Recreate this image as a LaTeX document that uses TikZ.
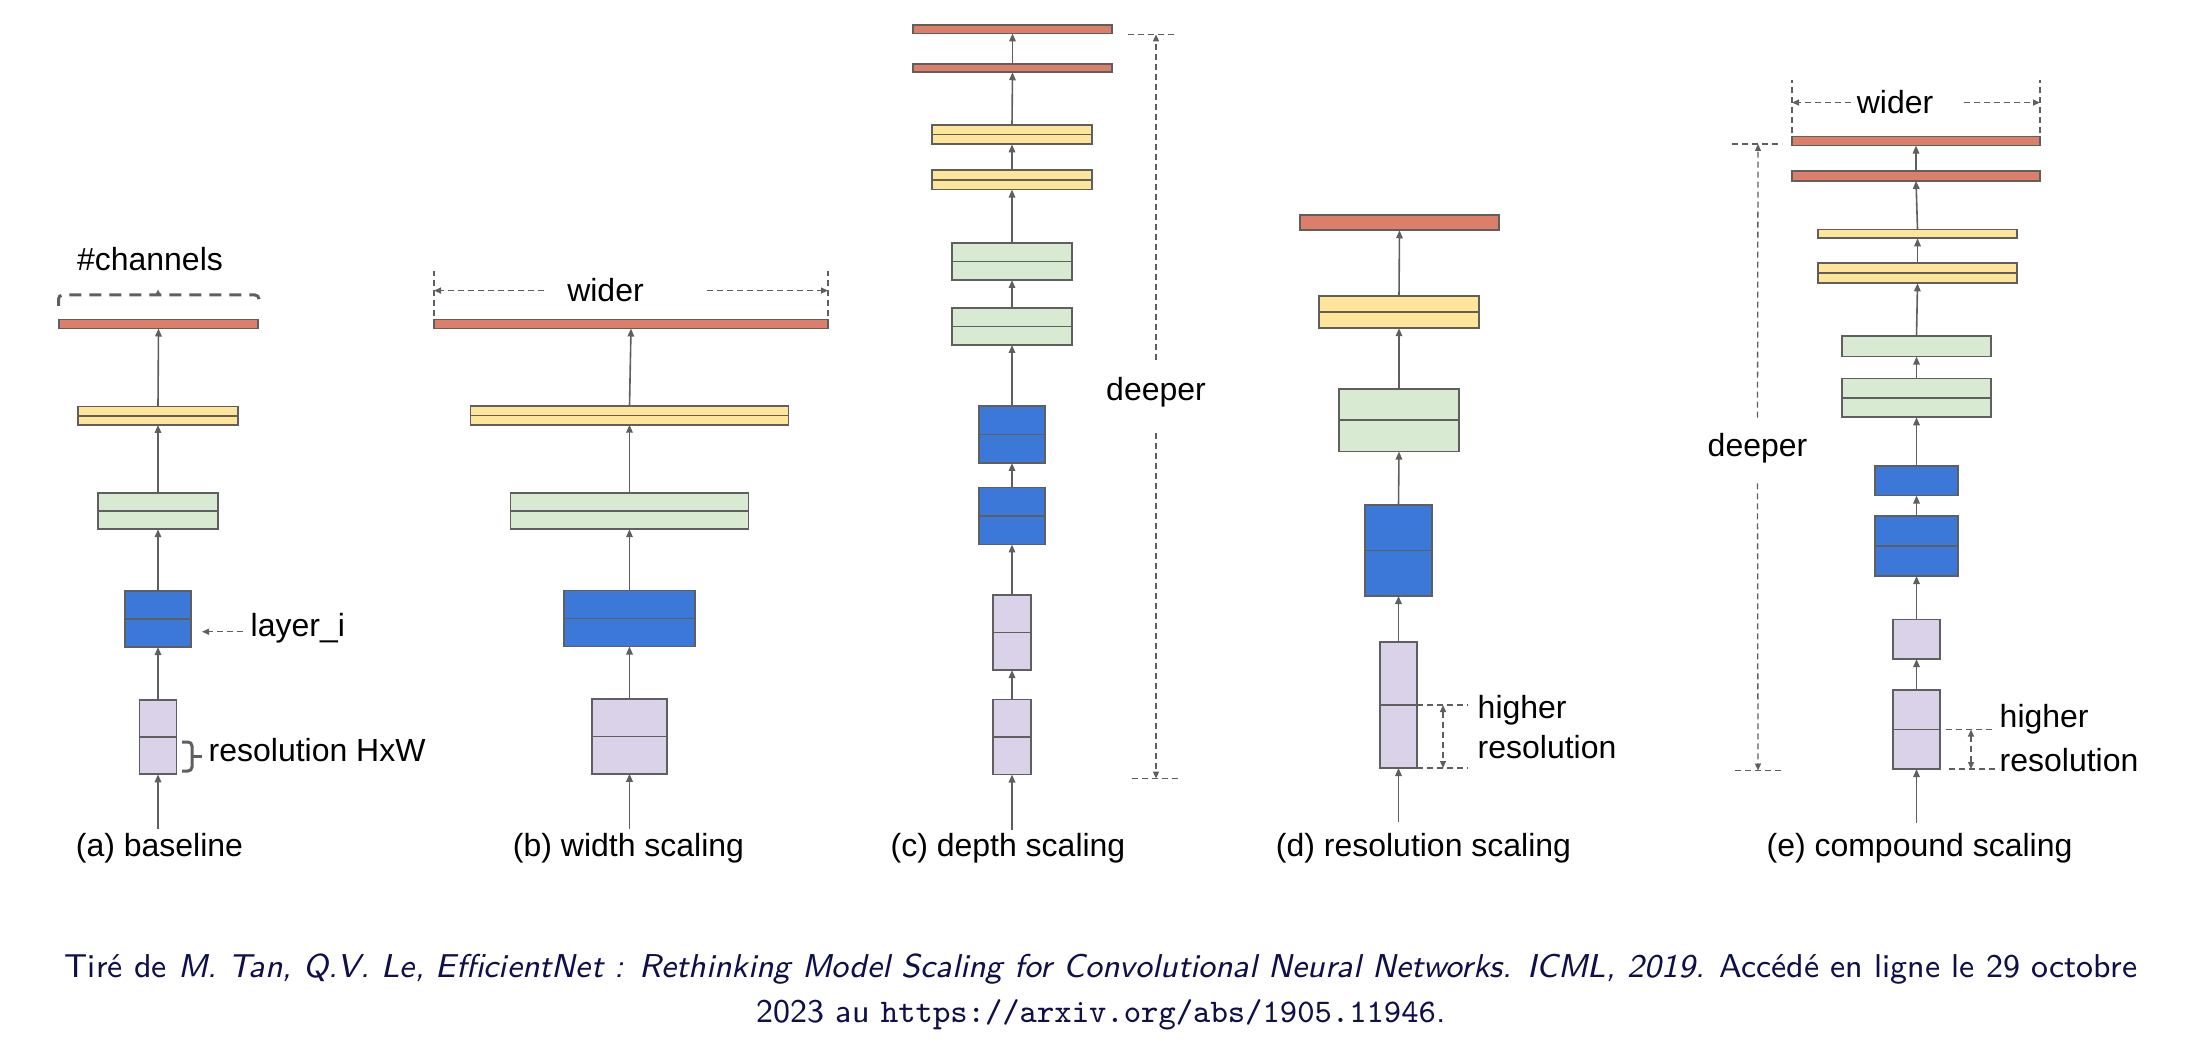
\documentclass[tikz,border=0pt]{standalone}
\usepackage{fontspec}
\newfontfamily\figfont{Liberation Sans}
\usetikzlibrary{arrows.meta}
\definecolor{effred}{RGB}{221,126,107}
\definecolor{effyellow}{RGB}{255,229,153}
\definecolor{effgreen}{RGB}{217,234,211}
\definecolor{effblue}{RGB}{60,120,216}
\definecolor{effpurple}{RGB}{217,210,233}
\definecolor{effgray}{RGB}{95,95,95}
\definecolor{capblue}{RGB}{15,15,75}
\tikzset{
  box/.style={draw=effgray, line width=0.17mm, inner sep=0pt, outer sep=0pt},
  dims/.style 2 args={minimum width=#1mm, minimum height=#2mm},
  halved/.style={path picture={\draw[effgray, line width=0.17mm] (path picture bounding box.west) -- (path picture bounding box.east);}},
  redbar/.style={box, fill=effred},
  yellowbar/.style={box, fill=effyellow},
  greenbar/.style={box, fill=effgreen},
  bluebar/.style={box, fill=effblue},
  purplebar/.style={box, fill=effpurple},
  flow/.style={effgray, line width=0.16mm, -{Triangle[length=0.8mm,width=0.65mm]}},
  dimline/.style={effgray, line width=0.13mm, dash pattern=on 0.6mm off 0.4mm},
  dimarrow/.style={dimline, -{Triangle[length=0.7mm,width=0.6mm]}},
  dimboth/.style={dimline, {Triangle[length=0.7mm,width=0.6mm]}-{Triangle[length=0.7mm,width=0.6mm]}},
  lbl/.style={font=\figfont\fontsize{9.1}{11}\selectfont, inner sep=0pt},
  capt/.style={font=\sffamily\fontsize{9.4}{12.8}\selectfont, text=capblue, align=center, inner sep=0pt}
}

\begin{document}
\begin{tikzpicture}[x=0.1mm, y=-0.1mm]
\useasboundingbox (0,0) rectangle (2186,1056);

% (a) baseline
\node[redbar, dims={19.9}{0.9}] (a1) at (158.5,324) {};
\node[yellowbar, halved, dims={16}{1.85}] (a2) at (158,415.7) {};
\node[greenbar, halved, dims={12}{3.65}] (a3) at (158,511) {};
\node[bluebar, halved, dims={6.6}{5.6}] (a4) at (158,619) {};
\node[purplebar, halved, dims={3.7}{7.45}] (a5) at (158,737) {};
\coordinate (a0) at (158,829);
\draw[flow] (a0) -- (a5.south);
\draw[flow] (a5.north) -- (a4.south);
\draw[flow] (a4.north) -- (a3.south);
\draw[flow] (a3.north) -- (a2.south);
\draw[flow] (a2.north) -- (a1.south);
\node[lbl, anchor=base] (acap) at (159.5,856) {(a) baseline};

\node[lbl, anchor=base] (chan) at (150,271) {\#channels};
\draw[effgray, line width=0.3mm, dash pattern=on 1.2mm off 0.8mm, rounded corners=0.4mm]
  (58.5,306) -- (58.5,295) -- (259,295) -- (259,306);
\fill[effgray] (155,295.5) -- (158,289.5) -- (161,295.5) -- cycle;

\node[lbl, anchor=base west] (lay) at (250,636) {layer\_i};
\draw[dimarrow] ([xshift=-0.7mm,yshift=-0.4mm]lay.west) -- ([xshift=1.1mm,yshift=-0.4mm]lay.west -| a4.east);

\node[lbl, anchor=base west] (res) at (208,761) {resolution HxW};
\draw[effgray, line width=0.3mm, rounded corners=0.4mm] (182,742) -- (192,742) -- (192,771) -- (182,771);
\draw[effgray, line width=0.3mm] (192,756.5) -- (202,756.5);

% (b) width scaling
\node[redbar, dims={39.4}{0.9}] (b1) at (631,324) {};
\node[yellowbar, halved, dims={31.8}{1.85}] (b2) at (629.5,415.5) {};
\node[greenbar, halved, dims={23.8}{3.65}] (b3) at (629.5,511) {};
\node[bluebar, halved, dims={13.1}{5.6}] (b4) at (629.5,618.5) {};
\node[purplebar, halved, dims={7.5}{7.45}] (b5) at (629.5,736.5) {};
\coordinate (b0) at (629.5,829);
\draw[flow] (b0) -- (b5.south);
\draw[flow] (b5.north) -- (b4.south);
\draw[flow] (b4.north) -- (b3.south);
\draw[flow] (b3.north) -- (b2.south);
\draw[flow] (b2.north) -- (b1.south);
\node[lbl, anchor=base] (bcap) at (628.5,856) {(b) width scaling};

\node[lbl, anchor=base] (bw) at (605.5,302) {wider};
\draw[dimarrow] ([xshift=-2.3mm]bw.west) -- (bw.west -| b1.west);
\draw[dimarrow] ([xshift=6.3mm]bw.east) -- (bw.east -| b1.east);
\draw[dimline] ([yshift=0.3mm]b1.north west) -- ++(0,-45);
\draw[dimline] ([yshift=0.3mm]b1.north east) -- ++(0,-45);

% (c) depth scaling
\node[redbar, dims={19.9}{0.85}] (c1) at (1012.5,29.2) {};
\node[redbar, dims={19.9}{0.85}] (c2) at (1012.5,68) {};
\node[yellowbar, halved, dims={16}{1.95}] (c3) at (1012,134.6) {};
\node[yellowbar, halved, dims={16}{1.95}] (c4) at (1012,179.8) {};
\node[greenbar, halved, dims={12}{3.7}] (c5) at (1012,261.5) {};
\node[greenbar, halved, dims={12}{3.7}] (c6) at (1012,326.5) {};
\node[bluebar, halved, dims={6.6}{5.7}] (c7) at (1012,434.5) {};
\node[bluebar, halved, dims={6.6}{5.7}] (c8) at (1012,516) {};
\node[purplebar, halved, dims={3.8}{7.5}] (c9) at (1012,632.5) {};
\node[purplebar, halved, dims={3.8}{7.5}] (c10) at (1012,737) {};
\coordinate (c0) at (1012,829.5);
\draw[flow] (c0) -- (c10.south);
\draw[flow] (c10.north) -- (c9.south);
\draw[flow] (c9.north) -- (c8.south);
\draw[flow] (c8.north) -- (c7.south);
\draw[flow] (c7.north) -- (c6.south);
\draw[flow] (c6.north) -- (c5.south);
\draw[flow] (c5.north) -- (c4.south);
\draw[flow] (c4.north) -- (c3.south);
\draw[flow] (c3.north) -- (c2.south);
\draw[flow] (c2.north) -- (c1.south);
\node[lbl, anchor=base] (ccap) at (1008,856) {(c) depth scaling};

\node[lbl, anchor=base] (cdeep) at (1156,401) {deeper};
\coordinate (ctop) at (1156,34.4);
\coordinate (cbot) at (1156,778.6);
\draw[dimline] ([xshift=-2.8mm]ctop) -- ([xshift=2.1mm]ctop);
\draw[dimline] ([xshift=-2.4mm]cbot) -- ([xshift=2.4mm]cbot);
\draw[dimarrow] ([yshift=1.7mm]cdeep.north) -- (ctop);
\draw[dimarrow] ([yshift=-2.5mm]cdeep.south) -- (cbot);

% (d) resolution scaling
\node[redbar, dims={19.9}{1.55}] (d1) at (1399.5,222.5) {};
\node[yellowbar, halved, dims={16}{3.25}] (d2) at (1399,312) {};
\node[greenbar, halved, dims={12}{6.25}] (d3) at (1399,420.3) {};
\node[bluebar, halved, dims={6.7}{9.1}] (d4) at (1398.5,550.5) {};
\node[purplebar, halved, dims={3.7}{12.6}] (d5) at (1398.5,705) {};
\coordinate (d0) at (1398.5,822);
\draw[flow] (d0) -- (d5.south);
\draw[flow] (d5.north) -- (d4.south);
\draw[flow] (d4.north) -- (d3.south);
\draw[flow] (d3.north) -- (d2.south);
\draw[flow] (d2.north) -- (d1.south);
\node[lbl, anchor=base] (dcap) at (1423.5,856) {(d) resolution scaling};

\node[lbl, anchor=base west] (dhi) at (1477,718) {higher};
\node[lbl, anchor=base west] (dres) at (1477,758) {resolution};
\draw[dimline] (d5.east) -- ++(51,0);
\draw[dimline] (d5.south east) -- ++(51,0);
\draw[dimboth] ([xshift=2.6mm]d5.east) -- ([xshift=2.6mm]d5.south east);

% (e) compound scaling
\node[redbar, dims={24.8}{0.92}] (e1) at (1916,141) {};
\node[redbar, dims={24.8}{0.97}] (e2) at (1916,176) {};
\node[yellowbar, dims={19.9}{0.87}] (e3) at (1917.5,234) {};
\node[yellowbar, halved, dims={19.9}{2.0}] (e4) at (1917.5,273.3) {};
\node[greenbar, dims={14.9}{2.07}] (e5) at (1916.5,346.3) {};
\node[greenbar, halved, dims={14.9}{3.87}] (e6) at (1916.5,398) {};
\node[bluebar, dims={8.3}{2.95}] (e7) at (1916.5,480.8) {};
\node[bluebar, halved, dims={8.3}{6.0}] (e8) at (1916.5,546) {};
\node[purplebar, dims={4.7}{3.95}] (e9) at (1916.5,639.3) {};
\node[purplebar, halved, dims={4.7}{7.9}] (e10) at (1916.5,729.5) {};
\coordinate (e0) at (1916.5,822.5);
\draw[flow] (e0) -- (e10.south);
\draw[flow] (e10.north) -- (e9.south);
\draw[flow] (e9.north) -- (e8.south);
\draw[flow] (e8.north) -- (e7.south);
\draw[flow] (e7.north) -- (e6.south);
\draw[flow] (e6.north) -- (e5.south);
\draw[flow] (e5.north) -- (e4.south);
\draw[flow] (e4.north) -- (e3.south);
\draw[flow] (e3.north) -- (e2.south);
\draw[flow] (e2.north) -- (e1.south);
\node[lbl, anchor=base] (ecap) at (1919.5,856) {(e) compound scaling};

\node[lbl, anchor=base] (ew) at (1895,114) {wider};
\draw[dimarrow] ([xshift=-0.5mm]ew.west) -- (ew.west -| e1.west);
\draw[dimarrow] ([xshift=3mm]ew.east) -- (ew.east -| e1.east);
\draw[dimline] ([yshift=0.3mm]e1.north west) -- ++(0,-53);
\draw[dimline] ([yshift=0.3mm]e1.north east) -- ++(0,-53);

\node[lbl, anchor=base] (edeep) at (1757.5,457) {deeper};
\coordinate (etop) at (1758,144);
\coordinate (ebot) at (1758,770.5);
\draw[dimline] ([xshift=-2.6mm]etop) -- ([xshift=2.4mm]etop);
\draw[dimline] ([xshift=-2.3mm]ebot) -- ([xshift=2.5mm]ebot);
\draw[dimarrow] ([yshift=1.55mm]edeep.north) -- (etop);
\draw[dimarrow] ([yshift=-1.9mm]edeep.south) -- (ebot);

\node[lbl, anchor=base west] (ehi) at (1999,727) {higher};
\node[lbl, anchor=base west] (eres) at (1999,771) {resolution};
\draw[dimline] ([xshift=0.6mm]e10.east) -- ++(48,0);
\draw[dimline] ([xshift=0.9mm]e10.south east) -- ++(50,0);
\draw[dimboth] ([xshift=3.1mm]e10.east) -- ([xshift=3.1mm]e10.south east);

% Source
\node[capt, anchor=base] (cap) at (1101,1022) {Tiré de \textit{M. Tan, Q.V. Le, EfficientNet : Rethinking Model Scaling for Convolutional Neural Networks. ICML, 2019.} Accédé en ligne le 29 octobre\\2023 au \texttt{https://arxiv.org/abs/1905.11946}.};
\end{tikzpicture}
\end{document}
